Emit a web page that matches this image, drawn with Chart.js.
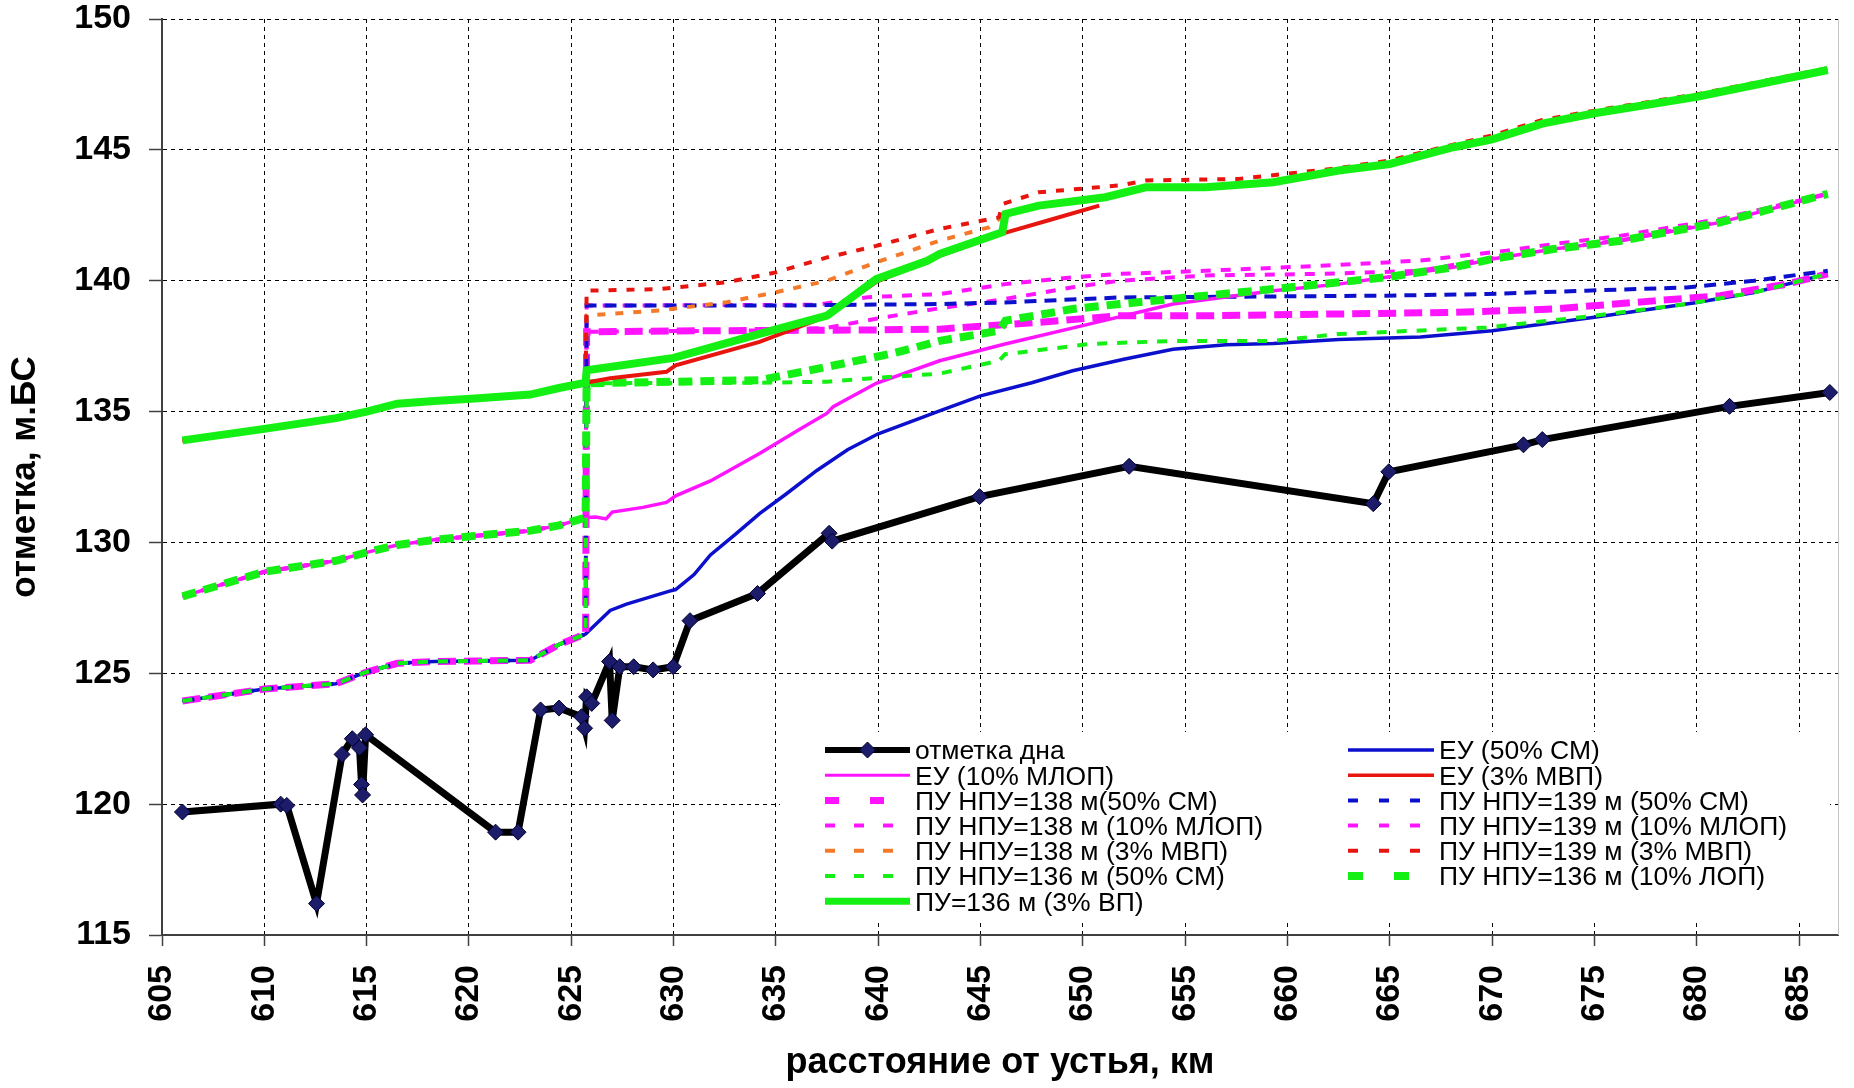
<!DOCTYPE html>
<html>
<head>
<meta charset="utf-8">
<script src="https://cdn.jsdelivr.net/npm/chart.js@4.4.1/dist/chart.umd.min.js"></script>
<style>
  html, body { margin: 0; padding: 0; background: #fff; }
</style>
</head>
<body>
<canvas id="profileChart" width="1854" height="1088"></canvas>
<script>
// --- данные: км от устья / отметка, м БС ---

// нижний бьеф (общий для всех вариантов одной обеспеченности)
const kmTail = [606.0, 610.0, 613.5, 615.0, 616.5, 618.3, 620.3, 623.0, 624.4, 625.7];
const tail50 = [123.94, 124.4, 124.6, 125.05, 125.38, 125.45, 125.47, 125.5, 126.1, 126.5];
const tail10 = [127.94, 128.88, 129.3, 129.62, 129.9, 130.1, 130.25, 130.45, 130.65, 130.95];
const tail3 = [133.9, 134.34, 134.75, 135.0, 135.3, 135.4, 135.5, 135.65, 135.9, 136.1];

// отметка дна
const bedKm = [606.0, 610.8, 611.1, 612.55, 613.8, 614.3, 614.65, 614.75, 614.8, 614.95, 621.3, 622.4, 623.5, 624.4,
  625.5, 625.65, 625.75, 626.0, 626.87, 627.0, 627.37, 628.05, 629.0, 629.98, 630.8, 634.1, 637.6, 637.75,
  644.95, 652.26, 664.19, 664.95, 671.53, 672.45, 681.6, 686.5];
const bedLevel = [119.7, 120.0, 119.95, 116.2, 121.9, 122.5, 122.15, 120.75, 120.35, 122.65, 118.93, 118.93, 123.6, 123.67,
  123.34, 122.9, 124.1, 123.85, 125.45, 123.2, 125.25, 125.25, 125.13, 125.25, 127.01, 128.05, 130.35, 130.05,
  131.75, 132.91, 131.48, 132.7, 133.73, 133.93, 135.2, 135.73];

// ЕУ (50% СМ)
const eu50Km = [626.9, 627.7, 629.8, 630.1, 631.0, 631.8, 633.0, 634.2, 635.5, 637.0, 638.5, 640.0, 643.0, 645.0,
  647.5, 649.5, 652.0, 654.4, 657.0, 659.3, 662.5, 666.5, 670.0, 675.0, 680.0, 682.8, 686.4];
const eu50 = [127.4, 127.64, 128.14, 128.2, 128.77, 129.52, 130.3, 131.1, 131.85, 132.75, 133.54, 134.15, 135.03, 135.6,
  136.1, 136.56, 137.0, 137.38, 137.55, 137.6, 137.75, 137.85, 138.09, 138.6, 139.17, 139.55, 140.26];

// ЕУ (10% МЛОП)
const eu10Km = [626.2, 626.7, 627.0, 628.5, 629.65, 630.1, 631.8, 634.2, 636.0, 637.5, 637.8, 639.9, 643.0, 646.2,
  650.3, 654.4, 659.3, 662.5, 664.8, 668.1, 670.0, 673.0, 676.3, 681.15, 686.4];
const eu10 = [130.97, 130.9, 131.16, 131.34, 131.53, 131.78, 132.35, 133.4, 134.25, 134.94, 135.19, 136.08, 136.94, 137.58,
  138.34, 139.11, 139.62, 139.87, 140.13, 140.51, 140.83, 141.21, 141.53, 142.23, 143.32];

// ЕУ (3% МВП)
const eu3Km = [626.9, 629.65, 630.1, 634.2, 637.6, 638.6, 639.9, 643.0, 646.06, 648.5, 650.8];
const eu3 = [136.27, 136.52, 136.77, 137.66, 138.67, 139.25, 139.95, 140.95, 141.8, 142.35, 142.87];

// ПУ НПУ=138 м (50% СМ)
const pu138s50Km = [625.75, 630, 635, 640, 643, 647.85, 651.77, 656, 661.57, 668.1, 673, 677.9, 681.15, 684.4, 686.4];
const pu138s50 = [138.05, 138.08, 138.1, 138.12, 138.15, 138.41, 138.66, 138.66, 138.72, 138.79, 138.92, 139.23, 139.43, 139.87, 140.26];

// ПУ НПУ=138 м (10% МЛОП)
const pu138s10Km = [625.75, 634, 637.5, 639.9, 643, 646.2, 649.5, 651.8, 656, 661.6, 666.5, 669.7, 673, 676.3, 681.15, 686.4];
const pu138s10 = [138.05, 138.1, 138.2, 138.55, 138.95, 139.3, 139.75, 140.0, 140.2, 140.26, 140.38, 140.83, 141.21, 141.55, 142.25, 143.32];

// ПУ НПУ=138 м (3% МВП)
const pu138s3Km = [625.75, 629.3, 632.6, 635, 637.5, 639.9, 643, 645.4, 646.2, 647.85, 651.1, 653.1, 656, 659.3, 662.5,
  665, 668.1, 670, 672.45, 675, 680, 686.4];
const pu138s3 = [138.67, 138.86, 139.18, 139.56, 140.0, 140.7, 141.53, 142.04, 142.55, 142.87, 143.19, 143.57, 143.57, 143.76, 144.21,
  144.46, 145.1, 145.4, 146.0, 146.4, 147.03, 148.05];

// ПУ НПУ=136 м (50% СМ)
const pu136s50Km = [625.75, 631, 634.2, 637.5, 640.7, 643, 645.9, 646.2, 650.3, 654.4, 659.3, 662.5, 669.7, 675, 679.5, 682.8, 686.4];
const pu136s50 = [136.08, 136.1, 136.1, 136.14, 136.33, 136.45, 136.94, 137.19, 137.58, 137.7, 137.7, 137.96, 138.21, 138.66, 139.11, 139.55, 140.26];

// ПУ=136 м (3% ВП)
const pu136s3Km = [625.75, 630, 634.2, 637.5, 638.6, 639.9, 642.4, 643, 646.06, 646.22, 647.85, 651.1, 653.07, 656, 659.3,
  662.5, 665, 668.1, 670, 672.45, 675, 680, 686.4];
const pu136s3 = [136.58, 137.05, 137.97, 138.67, 139.3, 140.06, 140.76, 141.02, 141.85, 142.55, 142.87, 143.19, 143.57, 143.57, 143.76,
  144.21, 144.46, 145.1, 145.4, 146.0, 146.4, 147.03, 148.05];

// ПУ НПУ=139 м (50% СМ)
const pu139s50Km = [625.75, 635, 643, 646.2, 651.8, 656, 664.8, 669.7, 674.6, 679.5, 682.8, 686.4];
const pu139s50 = [139.05, 139.05, 139.11, 139.17, 139.36, 139.38, 139.43, 139.49, 139.62, 139.74, 140.0, 140.38];

// ПУ НПУ=139 м (10% МЛОП)
const pu139s10Km = [625.75, 637, 639.5, 643, 646.2, 649.5, 651.8, 656, 661.6, 666.5, 670.7, 673, 676.3, 681.15, 686.4];
const pu139s10 = [139.05, 139.08, 139.37, 139.49, 139.87, 140.13, 140.26, 140.38, 140.57, 140.77, 141.15, 141.4, 141.72, 142.36, 143.32];

// ПУ НПУ=139 м (3% МВП)
const pu139s3Km = [625.75, 629.3, 632.6, 635, 637.5, 639.9, 643, 645.9, 646.06, 647.85, 651.8, 653.07, 657.6, 662.5,
  665, 668.1, 670, 672.45, 675, 680, 686.4];
const pu139s3 = [139.62, 139.68, 139.94, 140.32, 140.89, 141.33, 141.98, 142.42, 142.93, 143.38, 143.64, 143.83, 143.89, 144.3,
  144.6, 145.2, 145.55, 146.14, 146.5, 147.12, 148.12];

// ПУ НПУ=136 м (10% ЛОП)
const pu136s10Km = [625.75, 634.2, 637.5, 640.7, 643, 645.9, 646.22, 649.5, 651.8, 656, 659.3, 662.5, 664.8, 668.1, 670,
  673, 676.3, 681.15, 686.4];
const pu136s10 = [136.08, 136.2, 136.71, 137.22, 137.7, 138.09, 138.47, 138.92, 139.11, 139.43, 139.68, 139.94, 140.13, 140.51, 140.83,
  141.21, 141.53, 142.23, 143.32];

// --- построение серий ---
const FONT = "'Liberation Sans', Arial, sans-serif";

function pts(km, lv) {
  return km.map((x, i) => ({ x: x, y: lv[i] }));
}
// нижний бьеф + участок выше створа
function withTail(tail, km, lv) {
  return pts(kmTail, tail).concat(pts(km, lv));
}

function line(label, data, color, width, dash, extra) {
  return Object.assign({
    label: label,
    data: data,
    borderColor: color,
    backgroundColor: color,
    borderWidth: width,
    borderDash: dash,
    pointRadius: 0,
    pointHoverRadius: 0,
    fill: false,
    tension: 0
  }, extra || {});
}

const GREEN = '#14f014', MAGENTA = '#ff14ff', BLUE = '#0c10cc', RED = '#e8140e', ORANGE = '#f47a2a';

const datasets = [
  line('отметка дна', pts(bedKm, bedLevel), '#000000', 7, [], {
    pointRadius: 8, pointStyle: 'rectRot', pointBackgroundColor: '#1c1c6a',
    pointBorderColor: '#000030', pointBorderWidth: 1, order: 0,
    legendCol: 0, legendWidth: 6
  }),
  line('ЕУ (10% МЛОП)', withTail(tail10, eu10Km, eu10), MAGENTA, 3.5, [], { order: 7, legendCol: 0, legendWidth: 3 }),
  line('ПУ НПУ=138 м(50% СМ)', withTail(tail50, pu138s50Km, pu138s50), MAGENTA, 7, [18, 8],
    { order: 11, legendCol: 0, legendDash: [14, 31], legendWidth: 7 }),
  line('ПУ НПУ=138 м (10% МЛОП)', withTail(tail10, pu138s10Km, pu138s10), MAGENTA, 4, [10, 10],
    { order: 10, legendCol: 0, legendDash: [10, 19], legendWidth: 4 }),
  line('ПУ НПУ=138 м (3% МВП)', withTail(tail3, pu138s3Km, pu138s3), ORANGE, 4, [8, 10],
    { order: 4, legendCol: 0, legendDash: [10, 19], legendWidth: 4 }),
  line('ПУ НПУ=136 м (50% СМ)', withTail(tail50, pu136s50Km, pu136s50), GREEN, 4, [10, 10],
    { order: 6, legendCol: 0, legendDash: [10, 19], legendWidth: 4 }),
  line('ПУ=136 м (3% ВП)', withTail(tail3, pu136s3Km, pu136s3), GREEN, 8, [], { order: 1, legendCol: 0, legendWidth: 7 }),

  line('ЕУ (50% СМ)', withTail(tail50, eu50Km, eu50), BLUE, 3.5, [], { order: 12, legendCol: 1, legendWidth: 3.5 }),
  line('ЕУ (3% МВП)', withTail(tail3, eu3Km, eu3), RED, 4, [], { order: 2, legendCol: 1, legendWidth: 3.5 }),
  line('ПУ НПУ=139 м (50% СМ)', withTail(tail50, pu139s50Km, pu139s50), BLUE, 4, [12, 8],
    { order: 8, legendCol: 1, legendDash: [10, 21], legendWidth: 4 }),
  line('ПУ НПУ=139 м (10% МЛОП)', withTail(tail10, pu139s10Km, pu139s10), MAGENTA, 4, [10, 10],
    { order: 9, legendCol: 1, legendDash: [10, 21], legendWidth: 4 }),
  line('ПУ НПУ=139 м (3% МВП)', withTail(tail3, pu139s3Km, pu139s3), RED, 4, [8, 10],
    { order: 3, legendCol: 1, legendDash: [10, 21], legendWidth: 4 }),
  line('ПУ НПУ=136 м (10% ЛОП)', withTail(tail10, pu136s10Km, pu136s10), GREEN, 8, [14, 8],
    { order: 5, legendCol: 1, legendDash: [15, 31], legendWidth: 8 })
];

// легенда в поле графика, две колонки
const legendPlugin = {
  id: 'boxLegend',
  afterDatasetsDraw(chart) {
    const ctx = chart.ctx;
    const area = chart.chartArea;
    ctx.save();
    // правая рамка поля
    ctx.strokeStyle = '#c4c4c4';
    ctx.lineWidth = 1;
    ctx.beginPath();
    ctx.moveTo(area.right + 0.5, area.top);
    ctx.lineTo(area.right + 0.5, area.bottom);
    ctx.stroke();

    ctx.fillStyle = '#ffffff';
    ctx.fillRect(780, 732, 1050, 187);

    const cols = [{ x0: 825, x1: 910, tx: 915 }, { x0: 1348, x1: 1434, tx: 1439 }];
    const rows = [0, 0];
    ctx.font = '26.5px ' + FONT;
    ctx.textBaseline = 'middle';
    ctx.textAlign = 'left';
    chart.data.datasets.forEach(ds => {
      const c = cols[ds.legendCol];
      const y = 750 + rows[ds.legendCol] * 25.2;
      rows[ds.legendCol]++;
      ctx.save();
      ctx.strokeStyle = ds.borderColor;
      ctx.lineWidth = ds.legendWidth || ds.borderWidth;
      ctx.setLineDash(ds.legendDash || []);
      ctx.beginPath();
      ctx.moveTo(c.x0, y);
      ctx.lineTo(c.x1, y);
      ctx.stroke();
      if (ds.pointRadius > 0) {
        const mx = (c.x0 + c.x1) / 2, r = ds.pointRadius;
        ctx.setLineDash([]);
        ctx.fillStyle = ds.pointBackgroundColor;
        ctx.strokeStyle = ds.pointBorderColor;
        ctx.lineWidth = 1;
        ctx.beginPath();
        ctx.moveTo(mx, y - r);
        ctx.lineTo(mx + r, y);
        ctx.lineTo(mx, y + r);
        ctx.lineTo(mx - r, y);
        ctx.closePath();
        ctx.fill();
        ctx.stroke();
      }
      ctx.restore();
      ctx.fillStyle = '#000';
      ctx.fillText(ds.label, c.tx, y + 2);
    });
    ctx.restore();
  }
};

const ctx = document.getElementById('profileChart').getContext('2d');
const chart = new Chart(ctx, {
  type: 'line',
  data: { datasets: datasets },
  options: {
    responsive: false,
    animation: false,
    layout: { padding: { top: 19, right: 16, bottom: 0, left: 0 } },
    plugins: {
      legend: { display: false },
      tooltip: { enabled: false }
    },
    scales: {
      x: {
        type: 'linear',
        min: 605,
        max: 686.9,
        ticks: {
          stepSize: 5,
          includeBounds: false,
          autoSkip: false,
          minRotation: 90,
          maxRotation: 90,
          padding: 19,
          color: '#000',
          font: { family: FONT, size: 34, weight: 'bold', lineHeight: 0.9 }
        },
        grid: { color: '#000', lineWidth: 1, tickLength: 11, tickColor: '#404040', tickWidth: 1.5 },
        border: { display: true, color: '#404040', width: 2, dash: [4, 4] },
        title: {
          display: true,
          text: 'расстояние от устья, км',
          color: '#000',
          font: { family: FONT, size: 36, weight: 'bold' },
          padding: { top: 0, bottom: 3 }
        },
        afterFit(scale) {
          scale.height = 153;
          scale.paddingLeft = 0;
          scale.paddingRight = 0;
        }
      },
      y: {
        min: 115,
        max: 150,
        ticks: {
          stepSize: 5,
          padding: 18,
          color: '#000',
          font: { family: FONT, size: 34, weight: 'bold', lineHeight: 0.9 }
        },
        grid: { color: '#000', lineWidth: 1, tickLength: 13, tickColor: '#404040', tickWidth: 1.5 },
        border: { display: true, color: '#404040', width: 2, dash: [4, 4] },
        title: {
          display: true,
          text: 'отметка, м.БС',
          color: '#000',
          font: { family: FONT, size: 35, weight: 'bold' },
          padding: { top: 4, bottom: 0 }
        },
        afterFit(scale) {
          scale.width = 162;
          scale.paddingTop = 0;
          scale.paddingBottom = 0;
        }
      }
    }
  },
  plugins: [legendPlugin]
});
</script>
</body>
</html>
